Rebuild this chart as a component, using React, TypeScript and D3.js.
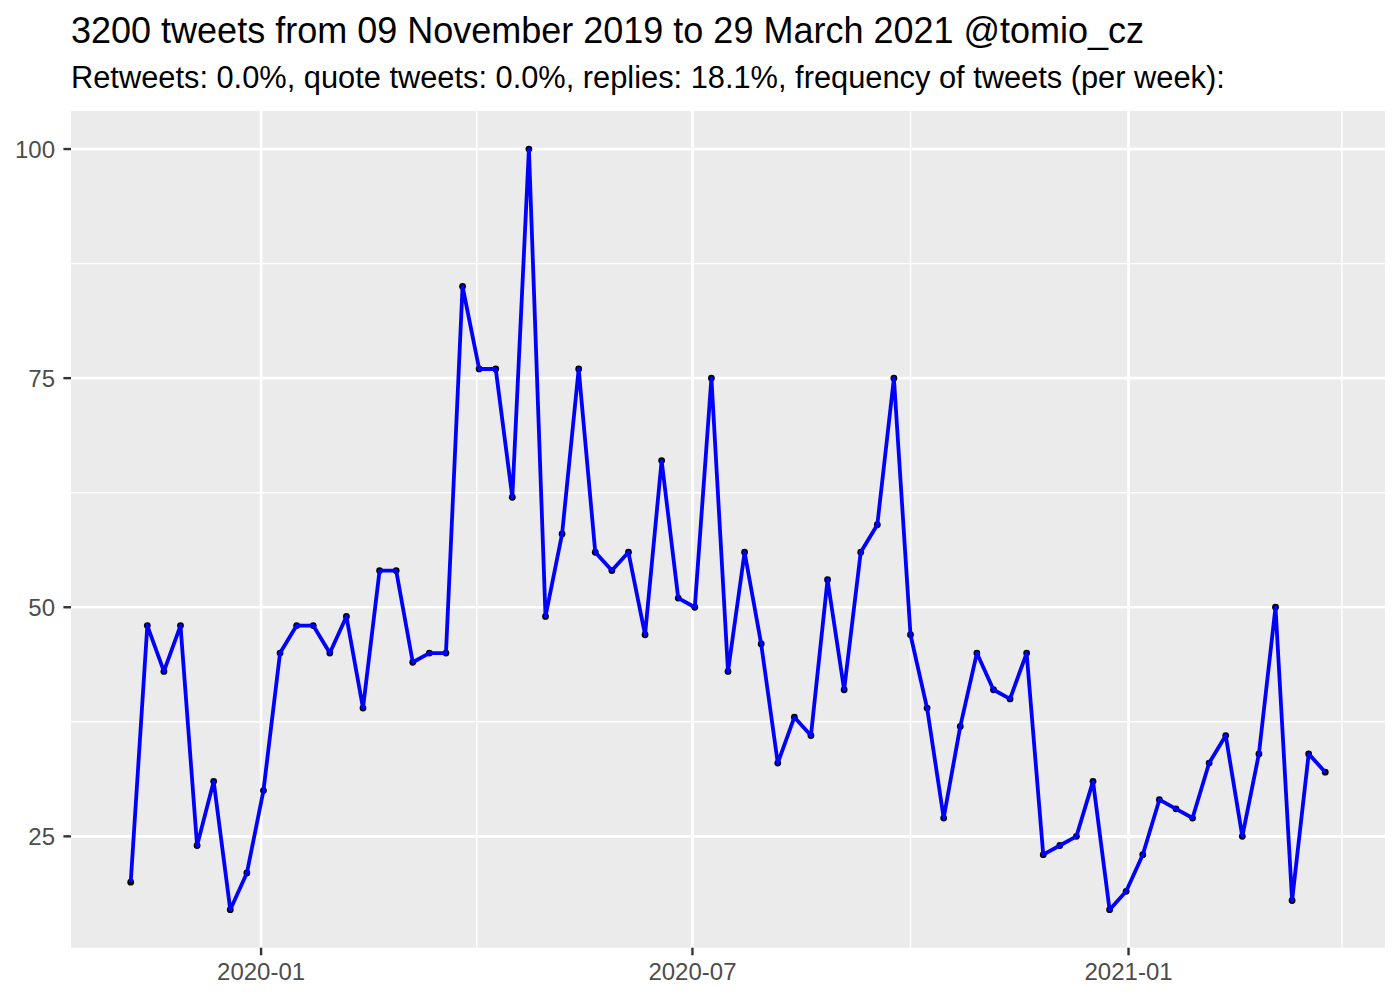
import React from "react";
import * as d3 from "d3";

const startDate = "2019-11-07";
const weeklyCounts: number[] = [
  20, 48, 43, 48, 24, 31, 17, 21, 30, 45,
  48, 48, 45, 49, 39, 54, 54, 44, 45, 45,
  85, 76, 76, 62, 100, 49, 58, 76, 56, 54,
  56, 47, 66, 51, 50, 75, 43, 56, 46, 33,
  38, 36, 53, 41, 56, 59, 75, 47, 39, 27,
  37, 45, 41, 40, 45, 23, 24, 25, 31, 17,
  19, 23, 29, 28, 27, 33, 36, 25, 34, 50,
  18, 34, 32,
];
const xMajorTicks = ["2020-01-01", "2020-07-01", "2021-01-01"];
const xMinorTicks = ["2020-04-01", "2020-10-01", "2021-04-01"];
const yMajorTicks = [25, 50, 75, 100];
const yMinorTicks = [37.5, 62.5, 87.5];
const titleText = "3200 tweets from 09 November 2019 to 29 March 2021 @tomio_cz";
const subtitleText =
  "Retweets: 0.0%, quote tweets: 0.0%, replies: 18.1%, frequency of tweets (per week):";

const W = 1400;
const H = 1000;
const panel = { left: 71, right: 1385, top: 111, bottom: 947.7 };
const FONT = "'Liberation Sans', Arial, Helvetica, sans-serif";

export default function App() {
  const parse = d3.utcParse("%Y-%m-%d");
  const t0 = parse(startDate)!;
  const data = weeklyCounts.map((v, i) => ({ date: d3.utcDay.offset(t0, 7 * i), value: v }));

  const xExt = d3.extent(data, (d) => d.date.getTime()) as [number, number];
  const xPad = (xExt[1] - xExt[0]) * 0.05;
  const x = d3
    .scaleUtc()
    .domain([new Date(xExt[0] - xPad), new Date(xExt[1] + xPad)])
    .range([panel.left, panel.right]);

  const yExt = d3.extent(data, (d) => d.value) as [number, number];
  const yPad = (yExt[1] - yExt[0]) * 0.05;
  const y = d3
    .scaleLinear()
    .domain([yExt[0] - yPad, yExt[1] + yPad])
    .range([panel.bottom, panel.top]);

  const line = d3
    .line<{ date: Date; value: number }>()
    .x((d) => x(d.date))
    .y((d) => y(d.value));

  const fmt = d3.utcFormat("%Y-%m");

  return (
    <div style={{ position: "absolute", left: 0, top: 0 }}>
      <svg width={W} height={H} style={{ display: "block", background: "#fff" }}>
        <text x={71} y={43} fontFamily={FONT} fontSize={36} fill="#000">
          {titleText}
        </text>
        <text x={71} y={88} fontFamily={FONT} fontSize={30.8} fill="#000">
          {subtitleText}
        </text>

        <rect
          x={panel.left}
          y={panel.top}
          width={panel.right - panel.left}
          height={panel.bottom - panel.top}
          fill="#EBEBEB"
        />
        {yMinorTicks.map((t) => (
          <line key={"ym" + t} x1={panel.left} x2={panel.right} y1={y(t)} y2={y(t)} stroke="#fff" strokeWidth={1.4} />
        ))}
        {xMinorTicks.map((t) => {
          const xv = x(parse(t)!);
          if (xv < panel.left || xv > panel.right) return null;
          return <line key={"xm" + t} x1={xv} x2={xv} y1={panel.top} y2={panel.bottom} stroke="#fff" strokeWidth={1.4} />;
        })}
        {yMajorTicks.map((t) => (
          <line key={"yM" + t} x1={panel.left} x2={panel.right} y1={y(t)} y2={y(t)} stroke="#fff" strokeWidth={2.7} />
        ))}
        {xMajorTicks.map((t) => {
          const xv = x(parse(t)!);
          return <line key={"xM" + t} x1={xv} x2={xv} y1={panel.top} y2={panel.bottom} stroke="#fff" strokeWidth={2.7} />;
        })}

        {data.map((d, i) => (
          <circle key={i} cx={x(d.date)} cy={y(d.value)} r={3.4} fill="#000" />
        ))}
        <path d={line(data) || ""} fill="none" stroke="#0000FF" strokeWidth={3.8} strokeLinejoin="round" strokeLinecap="butt" />

        {yMajorTicks.map((t) => (
          <g key={"yt" + t}>
            <line x1={panel.left - 7.6} x2={panel.left} y1={y(t)} y2={y(t)} stroke="#333" strokeWidth={2.4} />
            <text x={55} y={y(t)} dy="0.36em" textAnchor="end" fontFamily={FONT} fontSize={24} fill="#4D4D4D">
              {t}
            </text>
          </g>
        ))}
        {xMajorTicks.map((t) => {
          const xv = x(parse(t)!);
          return (
            <g key={"xt" + t}>
              <line x1={xv} x2={xv} y1={panel.bottom} y2={panel.bottom + 7.6} stroke="#333" strokeWidth={2.4} />
              <text x={xv} y={980} textAnchor="middle" fontFamily={FONT} fontSize={24} fill="#4D4D4D">
                {fmt(parse(t)!)}
              </text>
            </g>
          );
        })}
      </svg>
    </div>
  );
}
